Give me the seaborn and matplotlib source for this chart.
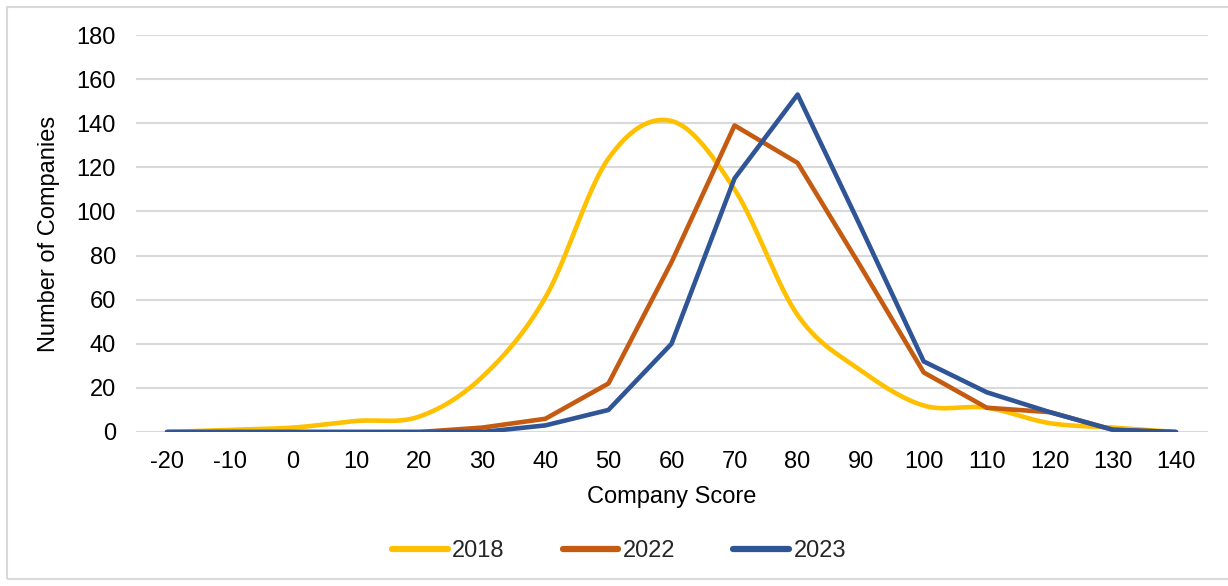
import numpy as np
import pandas as pd
import matplotlib
matplotlib.use("Agg")
import matplotlib.pyplot as plt
import seaborn as sns
from matplotlib.patches import Rectangle

scores = [-20, -10, 0, 10, 20, 30, 40, 50, 60, 70, 80, 90, 100, 110, 120, 130, 140]
y2018 = [0, 1, 2, 5, 7, 25, 61, 124, 141, 110, 53, 28, 12, 11, 4, 2, 0]
y2022 = [0, 0, 0, 0, 0, 2, 6, 22, 77, 139, 122, 75, 27, 11, 9, 1, 0]
y2023 = [0, 0, 0, 0, 0, 0, 3, 10, 40, 115, 153, 93, 32, 18, 9, 1, 0]
series_names = ["2018", "2022", "2023"]
colors = ["#FFC000", "#C55A11", "#2F5597"]
yticks = [0, 20, 40, 60, 80, 100, 120, 140, 160, 180]


def smooth(xs, ys, n=40):
    # Excel-style smoothed line (Catmull-Rom Bezier through the data points)
    xs = np.asarray(xs, float)
    ys = np.asarray(ys, float)
    px = np.concatenate([[xs[0]], xs, [xs[-1]]])
    py = np.concatenate([[ys[0]], ys, [ys[-1]]])
    ox, oy = [], []
    t = np.linspace(0, 1, n, endpoint=False)
    for i in range(1, len(px) - 2):
        p0 = np.array([px[i], py[i]])
        p3 = np.array([px[i + 1], py[i + 1]])
        c1 = p0 + (np.array([px[i + 1], py[i + 1]]) - np.array([px[i - 1], py[i - 1]])) / 6
        c2 = p3 - (np.array([px[i + 2], py[i + 2]]) - np.array([px[i], py[i]])) / 6
        b = ((1 - t) ** 3)[:, None] * p0 + (3 * (1 - t) ** 2 * t)[:, None] * c1 \
            + (3 * (1 - t) * t ** 2)[:, None] * c2 + (t ** 3)[:, None] * p3
        ox.extend(b[:, 0])
        oy.extend(b[:, 1])
    ox.append(xs[-1])
    oy.append(ys[-1])
    return np.array(ox), np.array(oy)


sx, sy = smooth(scores, y2018)
df_2018 = pd.DataFrame({"score": sx, "count": sy, "series": "2018"})
df_2022 = pd.DataFrame({"score": scores, "count": y2022, "series": "2022"})
df_2023 = pd.DataFrame({"score": scores, "count": y2023, "series": "2023"})
df = pd.concat([df_2018, df_2022, df_2023], ignore_index=True)

sns.set_theme(style="white")
plt.rcParams["font.family"] = ["Liberation Sans", "DejaVu Sans"]

FS = 17

fig = plt.figure(figsize=(12.28, 5.86), dpi=100)
ax = fig.add_axes([135.5 / 1228, 1 - 432 / 586, (1207.5 - 135.5) / 1228, (432 - 35) / 586])

sns.lineplot(data=df, x="score", y="count", hue="series", hue_order=series_names,
             palette=colors, sort=False, estimator=None, linewidth=3.3, ax=ax,
             solid_capstyle="round", solid_joinstyle="round")

ax.set_xlim(-25, 145)
ax.set_ylim(0, 180)
ax.set_xticks(scores)
ax.set_xticklabels([str(s) for s in scores], fontsize=FS, color="#000000")
ax.set_yticks(yticks)
ax.set_yticklabels([str(v) for v in yticks], fontsize=FS, color="#000000")
ax.tick_params(axis="x", length=0, pad=14)
ax.tick_params(axis="y", length=0, pad=14)
ax.yaxis.grid(True, color="#d9d9d9", linewidth=1.5)
ax.xaxis.grid(False)
ax.set_axisbelow(True)
for s in ax.spines.values():
    s.set_visible(False)
ax.axhline(0, color="#d9d9d9", linewidth=1.5, zorder=0)

ax.set_xlabel("Company Score", fontsize=FS, color="#000000", labelpad=9)
ax.set_ylabel("Number of Companies", fontsize=FS, color="#000000", labelpad=12)

leg = ax.legend(loc="center", bbox_to_anchor=(0.5 + 5 / 1228, (586 - 551) / 586),
                bbox_transform=fig.transFigure,
                ncol=3, frameon=False, fontsize=FS, handlelength=2.35, handletextpad=0.2,
                columnspacing=2.45)
for line in leg.get_lines():
    line.set_linewidth(4.5)
    line.set_solid_capstyle("round")

fig.patches.append(Rectangle((7 / 1228, 7 / 586), (1240 - 7) / 1228, (579 - 7) / 586,
                             transform=fig.transFigure, fill=False, edgecolor="#d9d9d9",
                             linewidth=1.5))

fig.savefig("out.png", dpi=100, facecolor="white")
